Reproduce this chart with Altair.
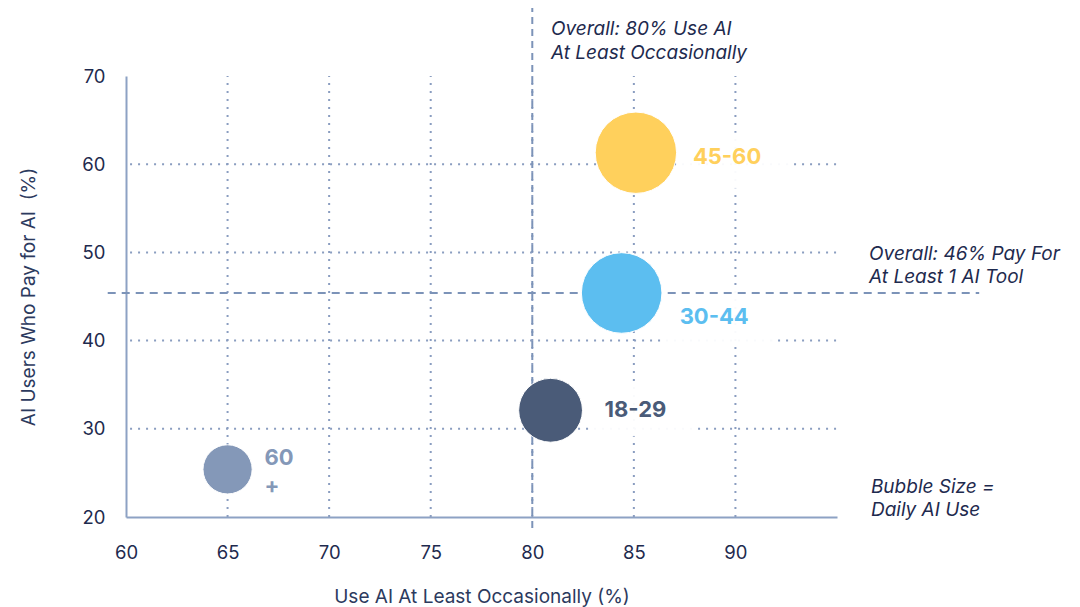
import altair as alt
import pandas as pd

# ---- data ----
groups = ["45-60", "30-44", "18-29", "60+"]
label_lines = [["45-60"], ["30-44"], ["18-29"], ["60", "+"]]
use_ai = [85.1, 84.4, 80.9, 65.0]        # Use AI at least occasionally (%)
pay_ai = [61.3, 45.4, 32.1, 25.4]        # AI users who pay for AI (%)
daily_use = [52, 51, 32, 19]             # bubble size = daily AI use
colors = ["#FFD05C", "#5CBEF0", "#4A5B78", "#8498B8"]

x_ticks = [60, 65, 70, 75, 80, 85, 90]
y_ticks = [20, 30, 40, 50, 60, 70]
x_grid = [65, 70, 75, 80, 85, 90]
y_grid = [30, 40, 50, 60]

overall_use = 80
overall_pay = 45.4

annotations = [
    ("Overall: 80% Use AI", 80.92, 75.3),
    ("At Least Occasionally", 80.92, 72.65),
    ("Overall: 46% Pay For", 96.58, 49.8),
    ("At Least 1 AI Tool", 96.58, 47.25),
    ("Bubble Size =", 96.67, 23.4),
    ("Daily AI Use", 96.67, 20.8),
]

# ---- styles ----
FONT = "Inter"
NAVY = "#1E2A4E"
GRID = "#8A9DC0"
AXIS = "#8DA2C4"
DASH = "#7C93B8"

label_style = {
    "45-60": dict(dx=57, dy=4),
    "30-44": dict(dx=58, dy=24),
    "18-29": dict(dx=54, dy=0),
    "60+": dict(dx=37, dy=-11),
}
box_style = {
    "45-60": dict(xOffset=98, yOffset=8, width=110, height=56),
    "30-44": dict(xOffset=96, yOffset=25, width=110, height=55),
    "18-29": dict(xOffset=92, yOffset=-1, width=101, height=54),
}

df = pd.DataFrame({
    "group": groups,
    "lines": label_lines,
    "use": use_ai,
    "pay": pay_ai,
    "daily": daily_use,
})

W, H = 711, 441

xs = alt.Scale(domain=[60, 95], nice=False, zero=False)
ys = alt.Scale(domain=[20, 70], nice=False, zero=False)
cs = alt.Scale(domain=groups, range=colors)

ax_x = alt.Axis(
    values=x_ticks, title="Use AI At Least Occasionally (%)", grid=False, ticks=False,
    domainColor=AXIS, domainWidth=2, labelFont=FONT, labelFontSize=18.5, labelColor=NAVY,
    labelPadding=26, labelFlush=False, titleFont=FONT, titleFontSize=19, titleFontWeight="normal",
    titleColor="#2C3A5E", titleBaseline="middle", titleY=79, titleX=W / 2,
)
ax_y = alt.Axis(
    values=y_ticks, title="AI Users Who Pay for AI \u00a0(%)", grid=False, ticks=False,
    domainColor=AXIS, domainWidth=2, labelFont=FONT, labelFontSize=18.5, labelColor=NAVY,
    labelPadding=21, labelFlush=False, titleFont=FONT, titleFontSize=19, titleFontWeight="normal",
    titleColor="#2C3A5E", titleBaseline="middle", titleX=-98, titleY=H / 2, titleAngle=270,
)


def X(f):
    return alt.X(f, scale=xs, axis=ax_x)


def Y(f):
    return alt.Y(f, scale=ys, axis=ax_y)


vgrid = alt.Chart(pd.DataFrame({"x": x_grid, "y1": [20] * len(x_grid), "y2": [70] * len(x_grid)})).mark_rule(
    color=GRID, strokeWidth=2, strokeDash=[2, 6]
).encode(x=X("x:Q"), y=Y("y1:Q"), y2="y2:Q")

hgrid = alt.Chart(pd.DataFrame({"y": y_grid, "x1": [60.2] * len(y_grid), "x2": [95] * len(y_grid)})).mark_rule(
    color=GRID, strokeWidth=2, strokeDash=[2, 6]
).encode(y=Y("y:Q"), x=X("x1:Q"), x2="x2:Q")

boxes = []
for g, st in box_style.items():
    boxes.append(
        alt.Chart(df[df.group == g]).mark_rect(color="white", opacity=0.95, **st).encode(
            x=X("use:Q"), y=Y("pay:Q")
        )
    )

vref = alt.Chart(pd.DataFrame({"x": [overall_use], "y1": [18.75], "y2": [77.7]})).mark_rule(
    color=DASH, strokeWidth=2, strokeDash=[7, 5]
).encode(x=X("x:Q"), y=Y("y1:Q"), y2="y2:Q")

href = alt.Chart(pd.DataFrame({"y": [overall_pay], "x1": [59.1], "x2": [102.0]})).mark_rule(
    color=DASH, strokeWidth=2, strokeDash=[8, 6]
).encode(y=Y("y:Q"), x=X("x1:Q"), x2="x2:Q")

bubbles = alt.Chart(df).mark_circle(opacity=1, stroke="white", strokeWidth=1).encode(
    x=X("use:Q"),
    y=Y("pay:Q"),
    size=alt.Size("daily:Q", scale=alt.Scale(domain=[0, 100], range=[0, 12732]), legend=None),
    color=alt.Color("group:N", scale=cs, legend=None),
)

labels = []
for g, st in label_style.items():
    labels.append(
        alt.Chart(df[df.group == g]).mark_text(
            align="left", baseline="middle", font=FONT, fontSize=22, fontWeight="bold",
            lineHeight=28, **st
        ).encode(
            x=X("use:Q"),
            y=Y("pay:Q"),
            text="lines",
            color=alt.Color("group:N", scale=cs, legend=None),
        )
    )

ann_df = pd.DataFrame(annotations, columns=["text", "x", "y"])
notes = alt.Chart(ann_df).mark_text(
    align="left", baseline="middle", font=FONT, fontSize=19, fontStyle="italic", color=NAVY
).encode(x=X("x:Q"), y=Y("y:Q"), text="text:N")

chart = alt.layer(
    vgrid, hgrid, *boxes, vref, href, bubbles, *labels, notes
).properties(
    width=W, height=H,
    autosize=alt.AutoSizeParams(type="none"),
    padding={"left": 126, "top": 76, "right": 243, "bottom": 90},
    background="white",
).configure_view(stroke=None)

chart.save("out.html", embed_options={"renderer": "svg", "actions": False})
